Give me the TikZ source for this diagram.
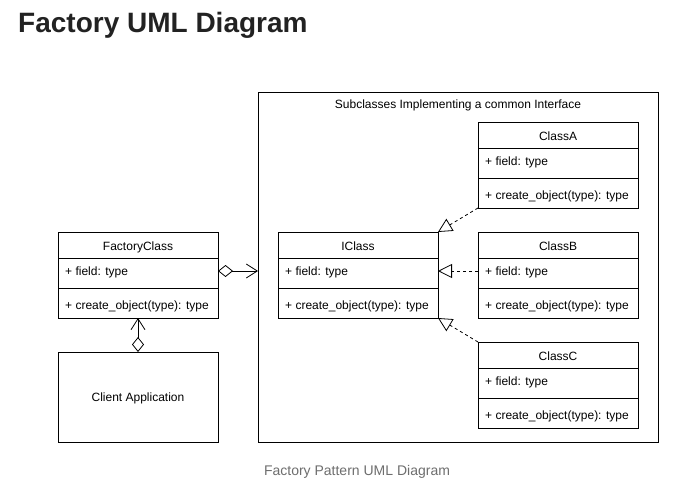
\documentclass[tikz,border=0pt]{standalone}
\usepackage{fontspec}
\setmainfont{Liberation Sans}
\usetikzlibrary{arrows.meta,calc}
\definecolor{titlecol}{HTML}{222222}
\definecolor{capcol}{HTML}{6E6E6E}
\newcommand\umlfont{\fontsize{12}{14}\selectfont}
\newcommand\umlbox[4]{%
  \node[classbox, anchor=north west] (#1) at (#2,#3) {};
  \node[umltext, anchor=base] (#1-t) at ($(#1.north)+(0,18)$) {#4};
  \draw[umlline] ($(#1.north west)+(0,26)$) -- ($(#1.north east)+(0,26)$);
  \draw[umlline] ($(#1.north west)+(0,56)$) -- ($(#1.north east)+(0,56)$);
  \node[umltext, anchor=base west] (#1-f) at ($(#1.north west)+(5,43)$) {+ field: type};
  \node[umltext, anchor=base west] (#1-m) at ($(#1.north west)+(5,77)$) {+ create\_object(type): type};
  \coordinate (#1-fe) at ($(#1.north east)+(0,39)$);
  \coordinate (#1-fw) at ($(#1.north west)+(0,39)$);
}
\begin{document}
\begin{tikzpicture}[x=1pt,y=-1pt,
  umlline/.style={line width=0.8pt,draw=black},
  classbox/.style={draw=black,line width=0.8pt,minimum width=160pt,minimum height=86pt,inner sep=0pt,outer sep=0pt},
  plainbox/.style={draw=black,line width=0.8pt,inner sep=0pt,outer sep=0pt},
  umltext/.style={font=\umlfont,inner sep=2pt,text=black},
  aggr/.style={line width=0.8pt,{Diamond[open,length=15pt,width=12pt]}-{Straight Barb[length=11pt,width=14pt]}},
  realize/.style={line width=0.8pt,dash pattern=on 3pt off 3pt,-{Triangle[open,length=14pt,width=14pt,fill=white]}},
]
\useasboundingbox (0,0) rectangle (698,492);
\fill[white] (0,0) rectangle (698,492);
% title
\node[anchor=base west,inner sep=0pt,font=\fontsize{28}{32}\selectfont\bfseries,text=titlecol] (title) at (18,33) {Factory UML Diagram};
% container
\node[plainbox,anchor=north west,minimum width=400pt,minimum height=350pt] (cont) at (258,92) {};
\node[umltext,anchor=base] (conttitle) at (458,109) {Subclasses Implementing a common Interface};
% classes
\umlbox{fc}{58}{232}{FactoryClass}
\umlbox{ic}{278}{232}{IClass}
\umlbox{ca}{478}{122}{ClassA}
\umlbox{cb}{478}{232}{ClassB}
\umlbox{cc}{478}{342}{ClassC}
% client
\node[plainbox,anchor=north west,minimum width=160pt,minimum height=90pt] (client) at (58,352) {};
\node[umltext,anchor=base] (clienttext) at ($(client.center)+(0,4)$) {Client Application};
% connectors
\draw[aggr] (fc-fe) -- (cont.west |- fc-fe);
\draw[aggr] (client.north) -- (fc.south);
\draw[realize] (ca.south west) -- (ic.north east);
\draw[realize] (cb-fw) -- (ic-fe);
\draw[realize] (cc.north west) -- (ic.south east);
% caption
\node[anchor=base,font=\fontsize{14}{16}\selectfont,text=capcol] (caption) at (357,475) {Factory Pattern UML Diagram};
\end{tikzpicture}
\end{document}
